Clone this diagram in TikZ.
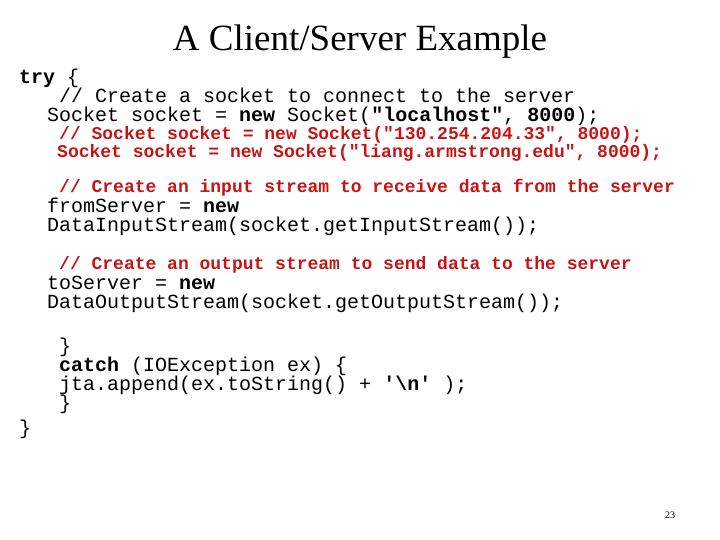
\documentclass[tikz,border=0pt]{standalone}
\usepackage{fontspec}
\setmainfont{Liberation Serif}
\newfontfamily\code{Liberation Mono}
\definecolor{cred}{RGB}{200,20,20}
\begin{document}
\begin{tikzpicture}[x=1pt,y=-1pt,
  ln/.style={anchor=base west,inner sep=0pt,font=\code\fontsize{20}{22}\selectfont},
  rl/.style={anchor=base west,inner sep=0pt,text=cred,font=\code\bfseries\fontsize{18}{20}\selectfont}]
\useasboundingbox (0,0) rectangle (720,540);
\node[inner sep=0pt,font=\fontsize{37}{40}\selectfont] (title) at (360,42) {A Client/Server Example};
\node[ln] (l1) at (19,84) {\textbf{try} \{};
\node[ln] (l2) at (59,103) {// Create a socket to connect to the server};
\node[ln] (l3) at (47,122) {Socket socket = \textbf{new} Socket(\textbf{"localhost"}, \textbf{8000});};
\node[rl] (l4) at (59,140) {// Socket socket = new Socket("130.254.204.33", 8000);};
\node[rl] (l5) at (57,158) {Socket socket = new Socket("liang.armstrong.edu", 8000);};
\node[rl] (l6) at (59,193) {// Create an input stream to receive data from the server};
\node[ln] (l7) at (47,212) {fromServer = \textbf{new}};
\node[ln] (l8) at (47,232) {DataInputStream(socket.getInputStream());};
\node[rl] (l9) at (59,269) {// Create an output stream to send data to the server};
\node[ln] (l10) at (47,289) {toServer = \textbf{new}};
\node[ln] (l11) at (47,308) {DataOutputStream(socket.getOutputStream());};
\node[ln] (l12) at (59,352) {\}};
\node[ln] (l13) at (59,371) {\textbf{catch} (IOException ex) \{};
\node[ln] (l14) at (59,390) {jta.append(ex.toString() + \textbf{'\textbackslash n'} );};
\node[ln] (l15) at (59,409) {\}};
\node[ln] (l16) at (19,434) {\}};
\node[inner sep=0pt,font=\fontsize{10}{12}\selectfont] (pg) at (670,515) {23};
\end{tikzpicture}
\end{document}
